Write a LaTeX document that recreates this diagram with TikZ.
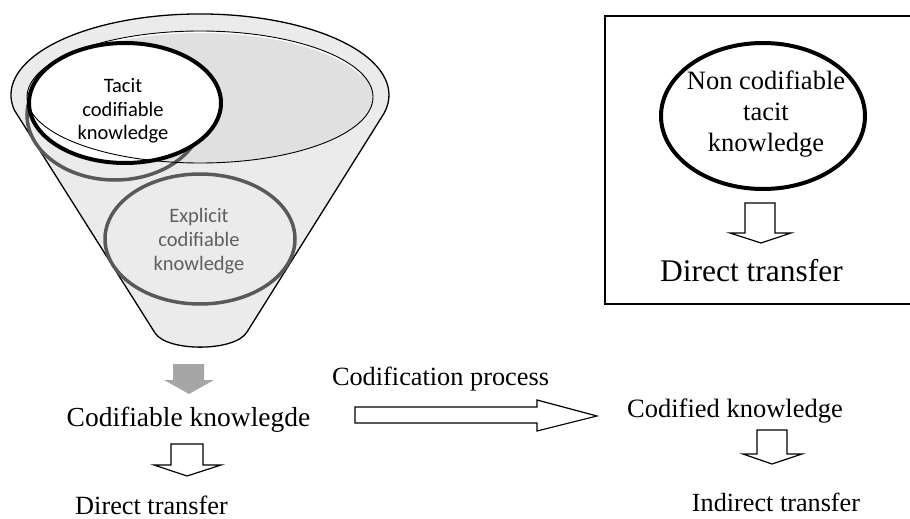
\documentclass[tikz,border=0pt]{standalone}
\usepackage{fontspec}
\setmainfont{Liberation Serif}
\newfontfamily\calibrifont{Carlito}
\usetikzlibrary{shapes.geometric}
\definecolor{funnelfill}{HTML}{EBEBEB}
\definecolor{rimfill}{HTML}{E0E0E0}
\definecolor{shadowgray}{HTML}{595959}
\definecolor{arrowgray}{HTML}{A6A6A6}
\definecolor{textgray}{HTML}{5F5F5F}
\tikzset{
  blockarrow/.style={draw=black, line width=1.2pt, fill=white, line join=miter},
  grayarrow/.style={fill=arrowgray, draw=none},
  oval/.style={ellipse, inner sep=0pt},
  serif/.style={inner sep=0pt, anchor=base},
}
\begin{document}
\begin{tikzpicture}[x=1pt,y=-1pt]
\useasboundingbox (0,0) rectangle (910,519);
% funnel body
\path[draw=black, line width=1.3pt, fill=funnelfill]
  (155,333) -- (14.3,110)
  arc[start angle=169.3, end angle=372.8, x radius=189, y radius=81]
  -- (247,332) .. controls (235,352) and (167,352) .. (155,333) -- cycle;
% rim opening fill
\node[oval, fill=rimfill, minimum width=346pt, minimum height=132pt] (rim) at (200,97) {};
% explicit ellipse
\node[oval, draw=shadowgray, line width=3.5pt, minimum width=190pt, minimum height=130pt] (explicit) at (200,239) {};
% shadow ellipse
\node[oval, draw=shadowgray, line width=3.5pt, minimum width=176pt, minimum height=130pt] (shadow) at (115,115) {};
% tacit fill
\node[oval, fill=white, minimum width=192pt, minimum height=120pt] (tacitfill) at (125,103) {};
% rim outline
\draw[black, line width=0.9pt] (rim.center) ellipse[x radius=173, y radius=66];
\draw[white, line width=1.2pt] (39.3,74.9) arc[start angle=200, end angle=340, x radius=171, y radius=64.5];
% tacit outline
\node[oval, draw=black, line width=4pt, minimum width=192pt, minimum height=120pt] (tacit) at (125,103) {};
\node[inner sep=0pt, align=center, font=\calibrifont\fontsize{20.5}{23.5}\selectfont] (tacittext) at (123,111) {Tacit\\codifiable\\knowledge};
\node[inner sep=0pt, align=center, text=textgray, font=\calibrifont\fontsize{20.5}{24}\selectfont] (explicittext) at (199,241) {Explicit\\codifiable\\knowledge};

% right box
\draw[line width=1.3pt] (915,16) -- (605,16) -- (605,304) -- (915,304);
\node[oval, draw=black, line width=4pt, minimum width=204pt, minimum height=146pt] (noncod) at (763,116) {};
\node[inner sep=0pt, align=center, font=\fontsize{26.5}{31}\selectfont] (noncodtext) at (766,114) {Non codifiable\\tacit\\knowledge};
\path[blockarrow] (745,203) -- (775,203) -- (775,233) -- (791,233) -- (761,243) -- (730,233) -- (745,233) -- cycle;
\node[serif, font=\fontsize{31.5}{36}\selectfont] (directbox) at (751.5,281) {Direct transfer};

% lower left
\path[grayarrow] (173,364) -- (204,364) -- (204,380) -- (214,380) -- (189,394) -- (164,380) -- (173,380) -- cycle;
\node[serif, font=\fontsize{27.5}{32}\selectfont] (codifiable) at (188.5,426) {Codifiable knowlegde};
\path[blockarrow] (171,444) -- (203,444) -- (203,465) -- (221,465) -- (187,476) -- (154,465) -- (171,465) -- cycle;
\node[serif, font=\fontsize{26.3}{30}\selectfont] (direct) at (151.5,514) {Direct transfer};

% codification process
\node[serif, font=\fontsize{26.3}{30}\selectfont] (process) at (440.5,385) {Codification process};
\path[blockarrow] (355,407) -- (537,407) -- (537,400) -- (597,416) -- (537,431) -- (537,423) -- (355,423) -- cycle;

% right lower
\node[serif, font=\fontsize{26.5}{30}\selectfont] (codified) at (735,417) {Codified knowledge};
\path[blockarrow] (757,430) -- (787,430) -- (787,454) -- (802,454) -- (772,464) -- (743,454) -- (757,454) -- cycle;
\node[serif, font=\fontsize{26.2}{30}\selectfont] (indirect) at (776,511) {Indirect transfer};
\end{tikzpicture}
\end{document}
